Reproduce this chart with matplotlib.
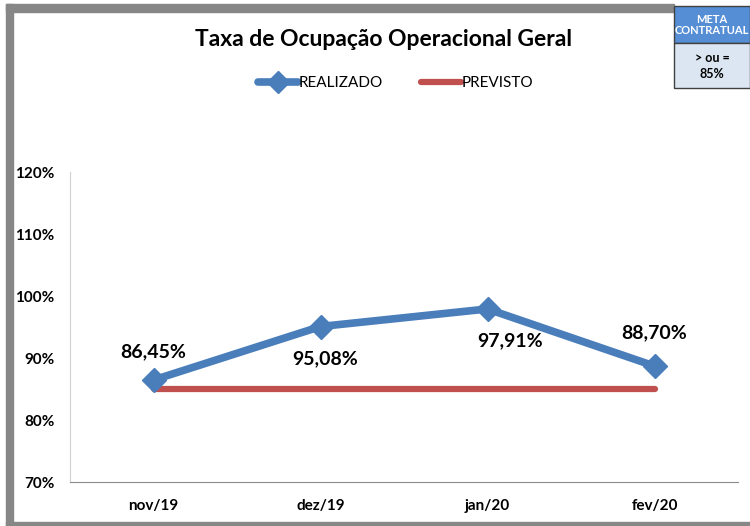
import matplotlib
matplotlib.use('Agg')
import matplotlib.pyplot as plt
from matplotlib.patches import Rectangle

# dados
meses = ['nov/19', 'dez/19', 'jan/20', 'fev/20']
realizado = [86.45, 95.08, 97.91, 88.70]
previsto = [85, 85, 85, 85]
rotulos = ['86,45%', '95,08%', '97,91%', '88,70%']
y_ticks = [70, 80, 90, 100, 110, 120]

W, H = 750, 526
plt.rcParams['font.family'] = ['Lato', 'DejaVu Sans']

fig = plt.figure(figsize=(W / 100, H / 100), dpi=100)
fig.patch.set_facecolor('white')

def px(x0, y0, w, h):
    # pixel box (top-left origin) -> figure fraction
    return [x0 / W, 1 - (y0 + h) / H, w / W, h / H]

# moldura cinza
grey = '#878787'
fig.patches.append(Rectangle((6 / W, 1 - 12 / H), (674 - 6) / W, 8 / H,
                             transform=fig.transFigure, color=grey, zorder=0))
fig.patches.append(Rectangle((6 / W, 0), 7 / W, 1 - 4 / H,
                             transform=fig.transFigure, color=grey, zorder=0))
fig.patches.append(Rectangle((6 / W, 0), 1 - 6 / W, 4 / H,
                             transform=fig.transFigure, color=grey, zorder=0))

ax = fig.add_axes(px(70, 172, 668, 310))
x = list(range(len(meses)))
ax.plot(x, previsto, color='#c0504d', lw=4.5, solid_capstyle='round', label='PREVISTO', zorder=2)
ax.plot(x, realizado, color='#4a7ebb', lw=5.5, marker='D', markersize=12,
        solid_capstyle='round', label='REALIZADO', zorder=3)

ax.set_xlim(-0.5, len(meses) - 0.5)
ax.set_ylim(70, 120)
ax.set_yticks(y_ticks)
ax.set_yticklabels([f'{v}%' for v in y_ticks], fontsize=11, fontweight='bold')
ax.set_xticks(x)
ax.set_xticklabels(meses, fontsize=11, fontweight='bold')
ax.tick_params(axis='y', length=0, pad=11)
ax.tick_params(axis='x', length=0, pad=12)
for s in ['top', 'right']:
    ax.spines[s].set_visible(False)
ax.spines['left'].set_color('#d0d0d0')
ax.spines['bottom'].set_color('#8c8c8c')

# rótulos de dados
offsets = [(0, 20), (3, -23), (16, -23), (0, 24)]
for i, (v, t) in enumerate(zip(realizado, rotulos)):
    ax.annotate(t, (i, v), xytext=offsets[i], textcoords='offset points',
                ha='center', va='center', fontsize=14, fontweight='bold', color='black')

fig.text(383 / W, 1 - 40 / H, 'Taxa de Ocupação Operacional Geral', ha='center', va='center',
         fontsize=16.5, fontweight='bold')

h, l = ax.get_legend_handles_labels()
fig.legend([h[1], h[0]], [l[1], l[0]], loc='center', bbox_to_anchor=(396 / W, 1 - 83 / H),
           ncol=2, frameon=False, fontsize=11, handlelength=2.6, handletextpad=0.05,
           columnspacing=2.5, markerscale=0.9)

# caixa meta contratual
fig.patches.append(Rectangle((674 / W, 1 - 43 / H), 76 / W, 37 / H, transform=fig.transFigure,
                             facecolor='#558ed5', edgecolor='#404040', lw=1, zorder=5))
fig.patches.append(Rectangle((674 / W, 1 - 88 / H), 76 / W, 45 / H, transform=fig.transFigure,
                             facecolor='#dce6f2', edgecolor='#404040', lw=1, zorder=5))
fig.text(712 / W, 1 - 25 / H, 'META\nCONTRATUAL', ha='center', va='center', fontsize=8,
         fontweight='bold', color='white', linespacing=1.1, zorder=6)
fig.text(712 / W, 1 - 66 / H, '> ou =\n85%', ha='center', va='center', fontsize=9,
         fontweight='bold', color='black', linespacing=1.4, zorder=6)

fig.savefig('out.png', dpi=100)
